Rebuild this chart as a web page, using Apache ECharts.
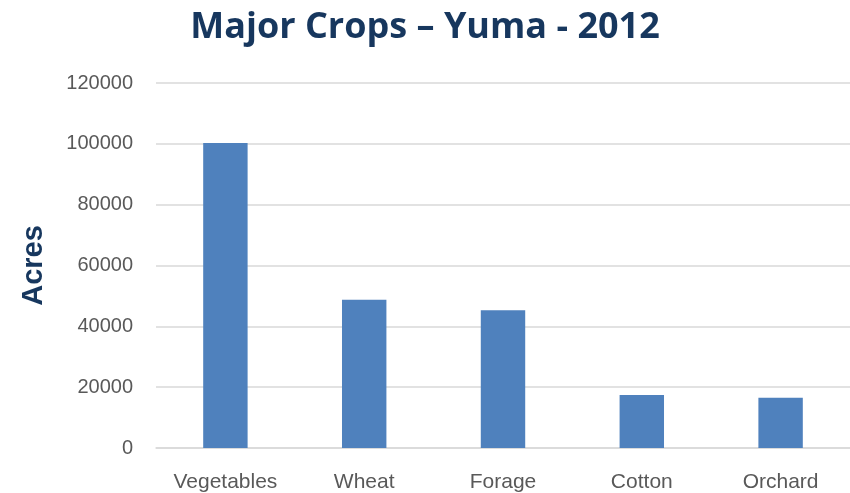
<!DOCTYPE html>
<html>
<head>
<meta charset="utf-8">
<title>Major Crops – Yuma - 2012</title>
<script src="https://cdn.jsdelivr.net/npm/echarts@6/dist/echarts.min.js"></script>
<style>
  html, body { margin: 0; padding: 0; background: #ffffff; }
  #chart { width: 850px; height: 493px; }
</style>
</head>
<body>
<div id="chart"></div>
<script>
// Harvested acreage of the major crop groups, Yuma County, 2012
const crops = ['Vegetables', 'Wheat', 'Forage', 'Cotton', 'Orchard'];
const acres = [100300, 48700, 45300, 17400, 16500];
const acreTicks = { min: 0, max: 120000, step: 20000 };

const labelGray = '#595959';
const navy = '#17375E';
const gridGray = '#D9D9D9';
const barBlue = '#4F81BD';

const chart = echarts.init(document.getElementById('chart'), null, { renderer: 'canvas' });

chart.setOption({
  animation: false,
  backgroundColor: '#ffffff',
  title: {
    text: 'Major Crops – Yuma - 2012',
    left: 'center',
    top: 5,
    textStyle: {
      fontFamily: 'Open Sans',
      fontWeight: 'bold',
      fontSize: 36,
      color: navy
    }
  },
  grid: {
    left: 156,
    width: 700,
    top: 83,
    bottom: 43,
    containLabel: false
  },
  xAxis: {
    type: 'category',
    data: crops,
    axisTick: { show: false },
    axisLine: { show: true, lineStyle: { color: gridGray, width: 1.5 } },
    axisLabel: {
      margin: 24,
      fontFamily: 'Liberation Sans',
      fontSize: 21,
      color: labelGray
    }
  },
  yAxis: {
    type: 'value',
    min: acreTicks.min,
    max: acreTicks.max,
    interval: acreTicks.step,
    name: 'Acres',
    nameLocation: 'middle',
    nameRotate: 90,
    nameGap: 108,
    nameTextStyle: {
      fontFamily: 'Liberation Sans',
      fontWeight: 'bold',
      fontSize: 29,
      color: navy
    },
    axisLine: { show: false },
    axisTick: { show: false },
    axisLabel: {
      margin: 23,
      fontFamily: 'Liberation Sans',
      fontSize: 20,
      color: labelGray,
      formatter: (v) => String(v)
    },
    splitLine: { show: true, lineStyle: { color: gridGray, width: 1.5 } }
  },
  series: [{
    type: 'bar',
    data: acres,
    barWidth: '32%',
    itemStyle: { color: barBlue }
  }]
});
</script>
</body>
</html>
